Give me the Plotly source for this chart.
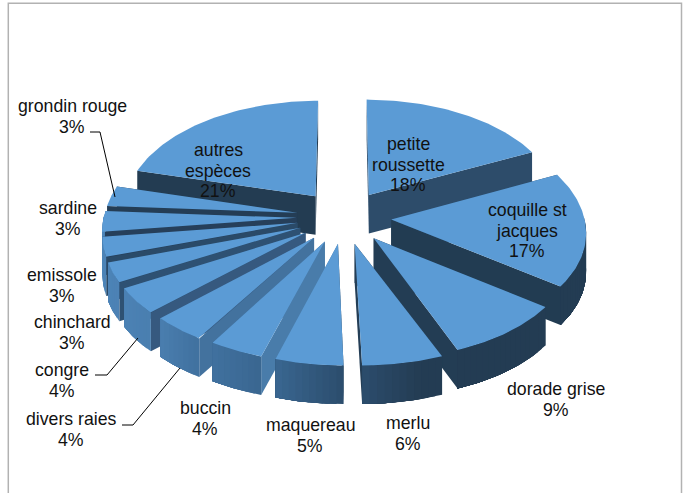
import numpy as np
import plotly.graph_objects as go

categories = ["petite roussette", "coquille st jacques", "dorade grise", "merlu", "maquereau",
              "buccin", "divers raies", "congre", "chinchard", "emissole", "sardine",
              "grondin rouge", "autres espèces"]
values = [18, 17, 9, 6, 5, 4, 4, 4, 3, 3, 3, 3, 21]
label_lines = [["petite", "roussette"], ["coquille st", "jacques"], ["dorade grise"], ["merlu"],
               ["maquereau"], ["buccin"], ["divers raies"], ["congre"], ["chinchard"],
               ["emissole"], ["sardine"], ["grondin rouge"], ["autres", "espèces"]]
label_x = [408, 527, 556, 408, 310, 205, 71, 62, 72, 62, 68, 72, 218]
label_y = [144, 210, 389, 423, 425, 408, 419, 370, 322, 275, 208, 106, 150]
# small per-slice lean of the front slices, to follow the reference's projection (pixels)
lean_px = [0, 0, 1, 8, 8, 8, 5, 3, 2, 2, 2, 1, 0]

# view geometry (pixels)
CX, CY, A, B, K, EXPLODE, DEPTH = 344, 217, 193, 109, 0.10, 0.245, 38.5
TOP = "#5b9bd5"


def proj(X, Y, z=0.0, lean=0.0):
    X, Y = np.asarray(X, float), np.asarray(Y, float)
    s = 1 / (1 + K * Y)
    front = np.maximum(-Y, 0) / 1.24
    return (CX + A * X * s + lean * front,
            CY - B * Y * s + DEPTH * z - 6 * front ** 2)


def hex2rgb(h):
    return np.array([int(h[i:i + 2], 16) for i in (1, 3, 5)], float)


def ramp(stops, t):
    ts = [a for a, _ in stops]
    cs = np.array([hex2rgb(c) for _, c in stops])
    r = [np.interp(t, ts, cs[:, i]) for i in range(3)]
    return "rgb(%d,%d,%d)" % tuple(r)


OUTER = [(0, "#233c52"), (165, "#243d54"), (179.9, "#2c4d6d"), (198, "#3a6791"), (212, "#41719f"),
         (227, "#4a7fb0"), (241, "#4c82b5"), (270, "#4f87bb"), (360, "#4f87bb")]
RADIAL = [(0, "#2e4d6b"), (64, "#2e4d6b"), (126, "#223c52"), (180, "#243e56"), (198, "#4a7dab"),
          (212, "#44739f"), (227, "#36597f"), (241, "#2f5274"), (252, "#2a4a68"), (263, "#263f5a"),
          (284, "#233c52"), (360, "#233c52")]

fig = go.Figure()


def poly(xs, ys, color):
    fig.add_trace(go.Scatter(x=list(xs), y=list(ys), mode="lines", fill="toself", fillcolor=color,
                             line=dict(color=color, width=0), hoverinfo="skip", showlegend=False))


edges = np.cumsum([0] + values) / sum(values) * 360
slices = []
for i in range(len(values)):
    t0, t1 = edges[i], edges[i + 1]
    slices.append((t0, t1, (t0 + t1) / 2))
order = sorted(range(len(values)), key=lambda i: -np.cos(np.radians(slices[i][2])))

for i in order:
    t0, t1, m = slices[i]
    lean = lean_px[i]
    ax, ay = EXPLODE * np.sin(np.radians(m)), EXPLODE * np.cos(np.radians(m))
    th = np.radians(np.linspace(t0, t1, 60))
    ox, oy = ax + np.sin(th), ay + np.cos(th)

    def radial(t):
        r = np.radians(t)
        ex, ey = ax + np.sin(r), ay + np.cos(r)
        p = [proj(ax, ay, 0, lean), proj(ex, ey, 0, lean), proj(ex, ey, 1, lean),
             proj(ax, ay, 1, lean), proj(ax, ay, 0, lean)]
        poly([float(q[0]) for q in p], [float(q[1]) for q in p], ramp(RADIAL, t))

    if m < 180:
        radial(t0)
        radial(t1)
    else:
        radial(t1)
        radial(t0)
    # outer rim, only the part facing the viewer; each band runs to the rim's end so no seams show
    lo, hi = max(t0, 88), min(t1, 272)
    if hi > lo:
        steps = np.linspace(lo, hi, max(2, int((hi - lo) / 2) + 2))
        for a, b in zip(steps[:-1], steps[1:]):
            arc = np.radians(np.linspace(a, hi, 30))
            ex, ey = ax + np.sin(arc), ay + np.cos(arc)
            x0, y0 = proj(ex, ey, 0, lean)
            x1, y1 = proj(ex, ey, 1, lean)
            poly(np.r_[x0, x1[::-1], x0[0]], np.r_[y0, y1[::-1], y0[0]], ramp(OUTER, (a + b) / 2))
    # top face
    px, py = proj(np.r_[ax, ox, ax], np.r_[ay, oy, ay], 0, lean)
    poly(px, py, TOP)

# labels
LINE = 20.7
annotations = []
for name, lines, v, x, y in zip(categories, label_lines, values, label_x, label_y):
    for k, txt in enumerate(lines + [f"{v}%"]):
        annotations.append(dict(x=x, y=y + k * LINE, text=txt, showarrow=False, xanchor="center",
                                yanchor="middle", xref="x", yref="y",
                                font=dict(family="Liberation Sans, Arial", size=17.7, color="#111111")))

# leader lines
leaders = [[(90, 132), (100, 132), (115, 197)],
           [(95, 375), (107, 375), (138, 338)],
           [(122, 425), (133, 425), (180, 368)]]
for pts in leaders:
    fig.add_trace(go.Scatter(x=[p[0] for p in pts], y=[p[1] for p in pts], mode="lines",
                             line=dict(color="#000000", width=1), hoverinfo="skip", showlegend=False))

# chart frame (open at the bottom)
fig.add_trace(go.Scatter(x=[8.3, 8.3, 681.5, 681.5], y=[493, 3.3, 3.3, 493], mode="lines",
                         line=dict(color="#b2b2b2", width=1.5), hoverinfo="skip", showlegend=False))

fig.update_layout(width=683, height=493, margin=dict(l=0, r=0, t=0, b=0),
                  paper_bgcolor="white", plot_bgcolor="white", showlegend=False,
                  annotations=annotations,
                  xaxis=dict(range=[0, 683], visible=False, fixedrange=True),
                  yaxis=dict(range=[493, 0], visible=False, fixedrange=True))
fig.write_html("out.html", config={"displayModeBar": False},
               post_script="document.body.style.margin='0';document.body.style.overflow='hidden';")
